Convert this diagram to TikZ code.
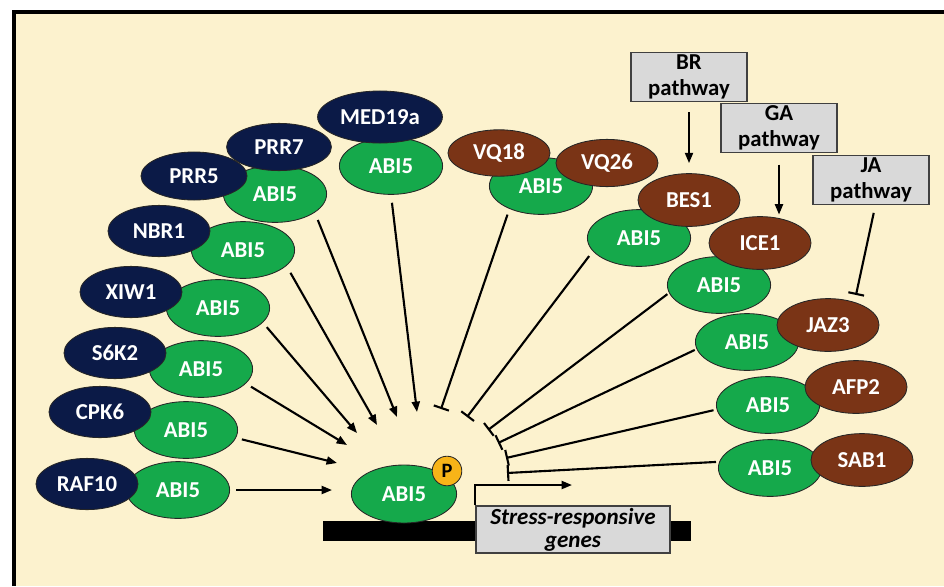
\documentclass[tikz,border=0pt]{standalone}
\usepackage{fontspec}
\setmainfont{Carlito}
\usetikzlibrary{arrows.meta,shapes.geometric}
\definecolor{Cream}{HTML}{FCF2CE}
\definecolor{Navy}{HTML}{0B1A47}
\definecolor{Leaf}{HTML}{15A94B}
\definecolor{Rust}{HTML}{7A3416}
\definecolor{Mist}{HTML}{D9D9D9}
\definecolor{Slate}{HTML}{404040}
\definecolor{Gold}{HTML}{F8B418}

\begin{document}
\begin{tikzpicture}[x=0.025cm,y=-0.025cm,
  font=\fontsize{16.2}{18.5}\selectfont\bfseries,
  prot/.style={ellipse,inner sep=0pt,draw=black!85,line width=0.6pt,text=white},
  abi/.style={prot,fill=Leaf,minimum width=2.58cm,minimum height=1.42cm},
  posreg/.style={prot,fill=Navy,minimum width=2.55cm,minimum height=1.28cm},
  negreg/.style={prot,fill=Rust,minimum width=2.55cm,minimum height=1.32cm},
  pathbox/.style={draw=Slate,fill=Mist,line width=0.9pt,minimum width=2.9cm,minimum height=1.22cm,inner sep=0pt,align=center},
  act/.style={-{Triangle[length=0.26cm,width=0.2cm]},line width=1.5pt},
  inh/.style={-{Bar[width=0.4cm,line width=1.5pt]},line width=1.5pt}]
\useasboundingbox (0,0) rectangle (944,586);
% frame
\fill[white] (0,0) rectangle (944,586);
\fill[Cream] (14,12) rectangle (944,586);
\draw[line width=2.2pt] (944,12) -- (14,12) -- (14,586);

% promoter and gene
\fill[black] (323,521) rectangle (691,541);
\node[draw=Slate,fill=Mist,line width=0.9pt,minimum width=4.85cm,minimum height=1.18cm,inner sep=0pt,align=center,
  font=\fontsize{16.4}{16.5}\selectfont\bfseries\itshape] (gene) at (573,529.5) {Stress-responsive\\genes};
\coordinate (tss) at (572,485);
\draw[act] (gene.north west) |- (tss);
\node[abi,minimum width=2.63cm,minimum height=1.45cm] (abi) at (404,494) {ABI5};
\node[circle,fill=Gold,draw=black!85,line width=0.6pt,minimum size=0.74cm,inner sep=0pt,font=\fontsize{14.5}{14.5}\selectfont\bfseries] (phos) at (447,471) {P};

% positive regulators
\node[abi] (abiraf) at (178,490) {ABI5};
\node[posreg] (raf) at (87,484) {RAF10};
\node[abi] (abicpk) at (186,430) {ABI5};
\node[posreg] (cpk) at (100,412) {CPK6};
\node[abi] (abisk) at (201,369) {ABI5};
\node[posreg] (sk) at (115,353) {S6K2};
\node[abi] (abixiw) at (218,308) {ABI5};
\node[posreg] (xiw) at (131,292) {XIW1};
\node[abi] (abinbr) at (243,250) {ABI5};
\node[posreg] (nbr) at (159,231) {NBR1};
\node[abi] (abiprr) at (275,194) {ABI5};
\node[posreg,minimum width=2.65cm,minimum height=1.2cm] (prrf) at (194,176) {PRR5};
\node[posreg,minimum width=2.62cm,minimum height=1.18cm] (prrs) at (279,147) {PRR7};
\node[abi] (abimed) at (391,166) {ABI5};
\node[posreg,minimum width=3.12cm,minimum height=1.3cm] (med) at (380,117) {MED19a};

% negative regulators
\node[abi] (abivq) at (541,186) {ABI5};
\node[negreg,minimum height=1.16cm] (vqa) at (499,153) {VQ18};
\node[negreg,minimum height=1.18cm] (vqb) at (607,163) {VQ26};
\node[abi] (abibes) at (639,238) {ABI5};
\node[negreg] (bes) at (689,200) {BES1};
\node[abi] (abiice) at (719,285) {ABI5};
\node[negreg] (ice) at (760,243) {ICE1};
\node[abi] (abijaz) at (747,342) {ABI5};
\node[negreg] (jaz) at (828,325) {JAZ3};
\node[abi] (abiafp) at (768,405) {ABI5};
\node[negreg] (afp) at (856,387) {AFP2};
\node[abi] (abisab) at (770,468) {ABI5};
\node[negreg] (sab) at (862,460) {SAB1};

% hormone pathways
\node[pathbox] (br) at (689,77) {BR\\pathway};
\node[pathbox] (ga) at (779,128) {GA\\pathway};
\node[pathbox] (ja) at (871,180) {JA\\pathway};
\draw[act,shorten <=0.25cm,shorten >=0.25cm] (br.south) -- (bes.north);
\draw[act,shorten <=0.29cm,shorten >=0.04cm] (ga.south) -- (ga.south |- ice.north);
\draw[inh,shorten <=0.2cm,shorten >=0.18cm] (ja.-80) -- (jaz.41);

% activation ends
\coordinate (traf) at (332,490);
\coordinate (tcpk) at (337,463);
\coordinate (tsk) at (347,445);
\coordinate (txiw) at (357,433);
\coordinate (tnbr) at (377,425);
\coordinate (tprr) at (397,417);
\coordinate (tmed) at (417,412);
% repression ends
\coordinate (tvq) at (441,409);
\coordinate (tbes) at (467,417);
\coordinate (tice) at (488,430);
\coordinate (tjaz) at (498,443);
\coordinate (tafp) at (506,458);
\coordinate (tsab) at (507,473);

\draw[act,shorten <=0.15cm] (abiraf.east) -- (traf);
\draw[act,shorten <=0.15cm] (abicpk.-9) -- (tcpk);
\draw[act,shorten <=0.15cm] (abisk.-18) -- (tsk);
\draw[act,shorten <=0.15cm] (abixiw.-18) -- (txiw);
\draw[act,shorten <=0.2cm] (abinbr.-20) -- (tnbr);
\draw[act,shorten <=0.2cm] (abiprr.-25) -- (tprr);
\draw[act,shorten <=0.2cm] (abimed.south) -- (tmed);

\draw[inh,shorten <=0.15cm] (abivq.-144) -- (tvq);
\draw[inh,shorten <=0.15cm] (abibes.-164) -- (tbes);
\draw[inh,shorten <=0.05cm] (abiice.-171) -- (tice);
\draw[inh,shorten <=0.05cm] (abijaz.-172) -- (tjaz);
\draw[inh,shorten <=0.08cm] (abiafp.-175) -- (tafp);
\draw[inh,shorten <=0.08cm] (abisab.173) -- (tsab);
\end{tikzpicture}
\end{document}
